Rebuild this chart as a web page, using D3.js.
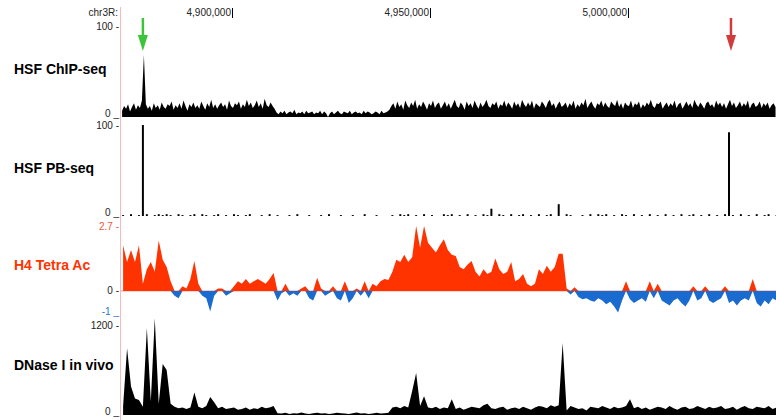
<!DOCTYPE html>
<style>
  body { margin: 0; background: #fff; }
  svg { display: block; font-family: Arial, "Liberation Sans", Helvetica, sans-serif; }
  .scale text { font-size: 10px; }
  .track-label { font-size: 14px; font-weight: bold; }
</style>
<body>
</body>
<script src="https://cdn.jsdelivr.net/npm/d3@7/dist/d3.min.js"></script>
<script>
  // bins start at chr3R:4,872,000 ; ChIP-seq is binned at 500 bp, the rest at 1 kb
  const binStart = 4872000;

  const chipSeq = [
    7, 12, 9, 14, 6, 11, 15, 8, 13, 10,
    18, 68, 14, 9, 12, 7, 15, 10, 13, 8,
    16, 11, 9, 14, 12, 17, 8, 13, 10, 15,
    9, 18, 12, 7, 14, 11, 16, 10, 13, 9,
    17, 12, 8, 15, 11, 19, 10, 14, 9, 13,
    16, 11, 14, 8, 18, 12, 10, 15, 13, 17,
    9, 14, 11, 19, 12, 16, 10, 13, 18, 11,
    15, 9, 20, 13, 11, 16, 12, 9,
    5, 3, 6, 4, 7, 3, 5, 6, 4, 8,
    3, 5, 4, 6, 3, 7, 4, 5, 6, 3,
    5, 4, 7, 3, 6, 4, 0, 4, 6, 3,
    5, 7, 4, 3, 6, 5, 4, 7, 3, 5,
    6, 4, 5, 3, 7, 4, 6, 5, 3, 4,
    6, 5, 3, 7, 4, 5, 6, 8,
    12, 15, 9, 17, 11, 14, 8, 18, 13, 10,
    16, 12, 19, 9, 14, 11, 17, 13, 8, 15,
    12, 18, 10, 14, 16, 9, 13, 17, 11, 15,
    9, 14, 19, 12, 10, 16, 13, 8, 17, 12,
    15, 10, 18, 13, 9, 16, 11, 14, 19, 12,
    10, 15, 13, 17, 9, 14, 12, 18, 11, 16,
    13, 9, 17, 12, 15, 10, 19, 14, 11, 16,
    12, 18, 9, 15, 13, 11, 17, 14, 10, 16,
    19, 12, 15, 9, 14, 17, 11, 13, 16, 10,
    15, 12, 18, 9, 14, 11, 16, 13, 20, 10,
    14, 17, 12, 9, 15, 13, 18, 11, 16, 12,
    10, 17, 14, 12, 19, 11, 15, 9, 16, 13,
    12, 18, 10, 15, 13, 17, 9, 14, 11, 16,
    13, 19, 12, 10, 15, 14, 17, 9, 13, 16,
    11, 15, 12, 18, 10, 14, 16, 9, 13, 17,
    12, 15, 10, 19, 14, 11, 16, 13, 9, 15,
    17, 12, 14, 10, 18, 13, 16, 11, 15, 9,
    14, 19, 12, 16, 10, 13, 17, 11, 15, 12,
    18, 9, 14, 16, 11, 13, 17, 10, 15, 12,
    16, 9, 13, 15, 11
  ];

  const pbSeq = [
    1, 0, 2, 0, 1, 100, 2, 0, 1, 2,
    1, 2, 1, 0, 2, 1, 0, 1, 2, 0,
    2, 1, 0, 1, 2, 0, 1, 0, 2, 1,
    0, 1, 2, 0, 0, 1, 0, 2, 0, 1,
    0, 0, 1, 0, 2, 0, 0, 1, 0, 0,
    1, 0, 2, 0, 0, 1, 0, 0, 1, 0,
    0, 2, 0, 0, 1, 0, 0, 0, 1, 0,
    2, 1, 2, 0, 1, 0, 2, 0, 1, 0,
    0, 2, 1, 2, 0, 1, 0, 2, 0, 1,
    0, 2, 1, 8, 0, 2, 1, 0, 2, 0,
    1, 2, 0, 1, 0, 2, 0, 1, 2, 0,
    13, 0, 2, 1, 0, 0, 1, 0, 2, 0,
    2, 1, 2, 0, 1, 0, 2, 1, 0, 2,
    0, 1, 0, 2, 0, 1, 0, 2, 0, 1,
    0, 2, 0, 1, 2, 0, 1, 0, 2, 0,
    1, 0, 2, 92, 1, 0, 2, 0, 1, 0,
    2, 0, 1, 2, 0, 1
  ];

  const h4Ac = [
    1.9, 1.2, 1.7, 1.2, 1.9, 0.3, 0.9, 1.2, 0.8, 2.1,
    1.3, 1.0, 0.4, -0.2, -0.3, 0.2, 0.1, 0.5, 1.25, 0.3,
    -0.2, -0.3, -0.85, -0.2, 0.1, 0.1, -0.2, -0.1, 0.2, 0.4,
    0.3, 0.5, 0.3, 0.4, 0.5, 0.4, 0.3, 0.5, 0.75, -0.4,
    -0.1, 0.3, -0.2, -0.1, -0.2, 0.1, 0.2, -0.3, -0.4, 0.55,
    0.1, -0.2, -0.1, 0.2, -0.3, -0.4, 0.4, -0.5, -0.3, 0.1,
    -0.2, 0.4, -0.3, 0.3, 0.2, 0.4, 0.5, 0.45, 0.8, 1.3,
    1.2, 1.5, 1.2, 1.4, 2.7, 1.8, 2.7, 2.0, 1.8, 1.6,
    1.9, 2.15, 1.7, 1.5, 1.45, 1.0, 0.9, 1.1, 1.25, 0.8,
    0.6, 0.9, 0.7, 0.8, 1.35, 0.9, 0.7, 0.8, 1.2, 0.4,
    0.5, 0.7, 0.3, 0.2, 0.3, 0.9, 0.7, 1.05, 0.8, 1.0,
    1.55, 1.55, 0.1, -0.15, 0.15, -0.25, -0.35, -0.3, -0.4, -0.45,
    -0.3, -0.4, -0.55, -0.45, -0.65, -0.9, -0.4, 0.4, -0.35, -0.5,
    -0.4, -0.3, -0.45, 0.4, -0.3, 0.3, -0.4, -0.5, -0.6, -0.4,
    -0.3, -0.5, -0.65, -0.4, 0.2, -0.4, -0.3, 0.2, -0.4, -0.5,
    -0.4, -0.3, 0.2, -0.5, -0.4, -0.6, -0.4, -0.3, -0.4, 0.5,
    -0.5, -0.65, -0.4, -0.55, -0.3, -0.4
  ];

  const dnase = [
    120, 890, 380, 220, 200, 110, 1160, 180, 1290, 150,
    680, 600, 150, 110, 90, 100, 80, 100, 300, 110,
    90, 120, 240, 170, 90, 110, 80, 90, 100, 70,
    80, 100, 70, 90, 80, 110, 90, 100, 120,
    25, 20, 30, 15, 25, 20, 35, 20, 15, 25, 30, 20, 25, 15, 20,
    30, 25, 20, 15, 25, 35, 20, 25, 15, 20, 30, 20, 25, 30,
    100, 110, 90, 120, 100, 320, 560, 120, 250, 100,
    90, 110, 80, 100, 90, 210, 80, 100, 70, 90,
    110, 100, 90, 130, 150, 90, 80, 100, 110, 70,
    90, 100, 80, 110, 90, 70, 100, 120, 110, 90,
    130, 110, 130, 960, 60, 120, 100, 80, 90, 60,
    110, 100, 90, 120, 100, 80, 110, 90, 100, 120,
    210, 90, 110, 80, 100, 70, 90, 110, 100, 80,
    120, 90, 70, 100, 110, 80, 90, 120, 100, 80,
    110, 90, 100, 120, 80, 90, 110, 70, 100, 120,
    90, 80, 110, 100, 90, 120, 80, 100
  ];

  const rulerTicks = [4900000, 4950000, 5000000];
  const arrows = [
    {pos: 4877500, color: '#3cc43c'},
    {pos: 5026000, color: '#d03c3c'},
  ];

  const w = 776, h = 420;
  const left = 121, right = 776;

  const svg = d3.select('body').append('svg')
    .attr('width', w)
    .attr('height', h);

  const x = d3.scaleLinear().domain([4871970, 5037370]).range([left, right]);
  const binX = size => (d, i) => x(binStart + i * size + size / 2);

  // pink left border of the data area
  svg.append('line')
    .attr('x1', left - 0.5).attr('x2', left - 0.5)
    .attr('y1', 7).attr('y2', h)
    .attr('stroke', '#f7b9b9');

  // ruler
  const ruler = svg.append('g').attr('class', 'scale');
  ruler.append('text')
    .attr('x', 118).attr('y', 16)
    .attr('text-anchor', 'end')
    .attr('fill', '#222')
    .text('chr3R:');
  ruler.selectAll('g.rtick')
    .data(rulerTicks)
    .join('g').attr('class', 'rtick')
    .call(g => g.append('line')
      .attr('x1', d => Math.round(x(d)) + 0.5).attr('x2', d => Math.round(x(d)) + 0.5)
      .attr('y1', 8).attr('y2', 18)
      .attr('stroke', '#000'))
    .call(g => g.append('text')
      .attr('x', d => x(d) - 1).attr('y', 16)
      .attr('text-anchor', 'end')
      .attr('fill', '#222')
      .text(d => d3.format(',')(d)));

  const tracks = [
    {label: 'HSF ChIP-seq', data: chipSeq, bin: 500, top: 26, bottom: 117, domain: [0, 100],
     ticks: [{v: 100, t: '100 -'}, {v: 0, t: '0 _'}], kind: 'area', labelY: 74, labelColor: '#000'},
    {label: 'HSF PB-seq', data: pbSeq, bin: 1000, top: 125, bottom: 216, domain: [0, 100],
     ticks: [{v: 100, t: '100 -'}, {v: 0, t: '0 _'}], kind: 'bar', labelY: 173, labelColor: '#000'},
    {label: 'H4 Tetra Ac', data: h4Ac, bin: 1000, top: 226, bottom: 315, domain: [-1, 2.7],
     ticks: [{v: 2.7, t: '2.7 -', c: '#f0583a'}, {v: 0, t: '0 -'}, {v: -1, t: '-1 _', c: '#2a78d8'}],
     kind: 'signed', labelY: 270, labelColor: '#ff3300'},
    {label: 'DNase I in vivo', data: dnase, bin: 1000, top: 325, bottom: 415, domain: [0, 1200],
     ticks: [{v: 1200, t: '1200 -'}, {v: 0, t: '0 _'}], kind: 'area', labelY: 370, labelColor: '#000'},
  ];

  tracks.forEach(tr => {
    const y = d3.scaleLinear().domain(tr.domain).range([tr.bottom, tr.top]);
    const bx = binX(tr.bin);
    const g = svg.append('g');

    g.append('text')
      .attr('class', 'track-label')
      .attr('x', 14).attr('y', tr.labelY)
      .attr('fill', tr.labelColor)
      .text(tr.label);

    const sc = g.append('g').attr('class', 'scale');
    sc.selectAll('text')
      .data(tr.ticks)
      .join('text')
      .attr('x', 119)
      .attr('y', d => d.v === tr.domain[0] ? y(d.v) : y(d.v) + 3.5)
      .attr('text-anchor', 'end')
      .attr('fill', d => d.c || '#222')
      .text(d => d.t);

    if (tr.kind === 'area') {
      const area = d3.area()
        .x(bx)
        .y0(y(0))
        .y1(d => y(Math.min(d, tr.domain[1] * 1.1)));
      g.append('path')
        .datum(tr.data)
        .attr('d', area)
        .attr('fill', '#000');
    } else if (tr.kind === 'bar') {
      const bw = (x(tr.bin) - x(0)) * 0.5;
      g.selectAll('rect')
        .data(tr.data)
        .join('rect')
        .attr('x', (d, i) => bx(d, i) - bw / 2)
        .attr('width', bw)
        .attr('y', d => y(d))
        .attr('height', d => y(0) - y(d))
        .attr('fill', '#000');
    } else {
      g.append('line')
        .attr('x1', left).attr('x2', right)
        .attr('y1', y(0)).attr('y2', y(0))
        .attr('stroke', '#ffa08a');
      const pos = d3.area()
        .x(bx)
        .y0(y(0))
        .y1(d => y(Math.max(d, 0)));
      const neg = d3.area()
        .x(bx)
        .y0(y(0))
        .y1(d => y(Math.min(d, 0)));
      g.append('path').datum(tr.data).attr('d', pos).attr('fill', '#ff3300');
      g.append('path').datum(tr.data).attr('d', neg).attr('fill', '#1a6bd0');
    }
  });

  // arrows marking the two HSF sites
  const arr = svg.append('g').selectAll('g')
    .data(arrows)
    .join('g')
    .attr('transform', d => `translate(${x(d.pos)}, 0)`);
  arr.append('line')
    .attr('x1', 0).attr('x2', 0)
    .attr('y1', 18).attr('y2', 37)
    .attr('stroke', d => d.color)
    .attr('stroke-width', 2.5);
  arr.append('path')
    .attr('d', 'M-5,35 L5,35 L0,51 Z')
    .attr('fill', d => d.color);
</script>
